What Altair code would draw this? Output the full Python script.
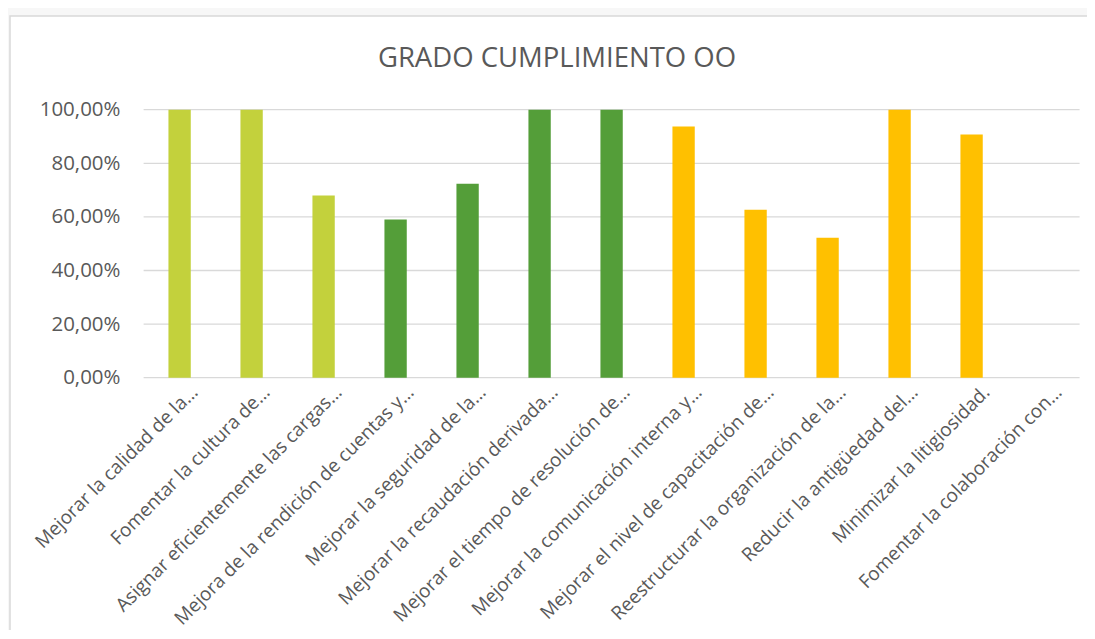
import altair as alt
import pandas as pd

categorias = [
    "Mejorar la calidad de la…",
    "Fomentar la cultura de…",
    "Asignar eficientemente las cargas…",
    "Mejora de la rendición de cuentas y…",
    "Mejorar la seguridad de la…",
    "Mejorar la recaudación derivada…",
    "Mejorar el tiempo de resolución de…",
    "Mejorar la comunicación interna y…",
    "Mejorar el nivel de capacitación de…",
    "Reestructurar la organización de la…",
    "Reducir la antigüedad del…",
    "Minimizar la litigiosidad.",
    "Fomentar la colaboración con…",
]
valores = [1.0, 1.0, 0.68, 0.59, 0.724, 1.0, 1.0, 0.937, 0.627, 0.522, 1.0, 0.907, 0.0]
grupos = ["G1", "G1", "G1", "G2", "G2", "G2", "G2", "G3", "G3", "G3", "G3", "G3", "G3"]
grupos_dominio = ["G1", "G2", "G3"]
colores = ["#C3D13C", "#549E39", "#FFC000"]
marcas_y = [0, 0.2, 0.4, 0.6, 0.8, 1.0]

W, H = 936, 268
FONT = "Open Sans"
GRAY = "#595959"

df = pd.DataFrame({"cat": categorias, "val": valores, "grupo": grupos})
grid_df = pd.DataFrame({"val": marcas_y})

yscale = alt.Scale(domain=[0, 1])
yaxis = alt.Axis(
    title=None, values=marcas_y, grid=False, ticks=False, domain=False,
    labelExpr="replace(format(datum.value, '.2%'), '.', ',')",
    labelPadding=23.6, labelFont=FONT, labelFontSize=20.5, labelColor=GRAY,
    labelFlush=False, zindex=1,
)

frame = alt.Chart(pd.DataFrame({"f": [0]})).mark_rect(
    fill="white", stroke="#d9d9d9", strokeWidth=1.5
).encode(
    x=alt.value(-133.6), x2=alt.value(W + 60),
    y=alt.value(-93.7), y2=alt.value(H + 400),
)

grid = alt.Chart(grid_df).mark_rule(color="#d9d9d9", strokeWidth=1.3).encode(
    y=alt.Y("val:Q", scale=yscale, axis=yaxis)
)

bars = alt.Chart(df).mark_bar().encode(
    x=alt.X(
        "cat:N", sort=categorias,
        scale=alt.Scale(paddingInner=0.69, paddingOuter=0.345),
        axis=alt.Axis(
            title=None, labelAngle=315, labelAlign="right", labelBaseline="middle",
            labelOffset=15, labelPadding=11, labelLimit=0, ticks=False, domain=False,
            labelFont=FONT, labelFontSize=19, labelColor=GRAY, zindex=1,
        ),
    ),
    y=alt.Y("val:Q", scale=yscale, axis=yaxis),
    color=alt.Color("grupo:N", scale=alt.Scale(domain=grupos_dominio, range=colores), legend=None),
)

chart = alt.layer(frame, grid, bars).properties(
    width=W, height=H,
    title=alt.TitleParams(
        "GRADO CUMPLIMIENTO OO", font=FONT, fontSize=27.5, fontWeight="normal",
        color=GRAY, anchor="middle", frame="group", dx=-54.6,
        baseline="alphabetic", offset=-79.4,
    ),
    autosize=alt.AutoSizeParams(type="none"),
    padding={"left": 135.6, "top": 101.7, "right": 7.4, "bottom": 252},
    background="#f7f7f7",
).configure_view(stroke=None)

chart.save("out.html", embed_options={"renderer": "svg", "actions": False})
